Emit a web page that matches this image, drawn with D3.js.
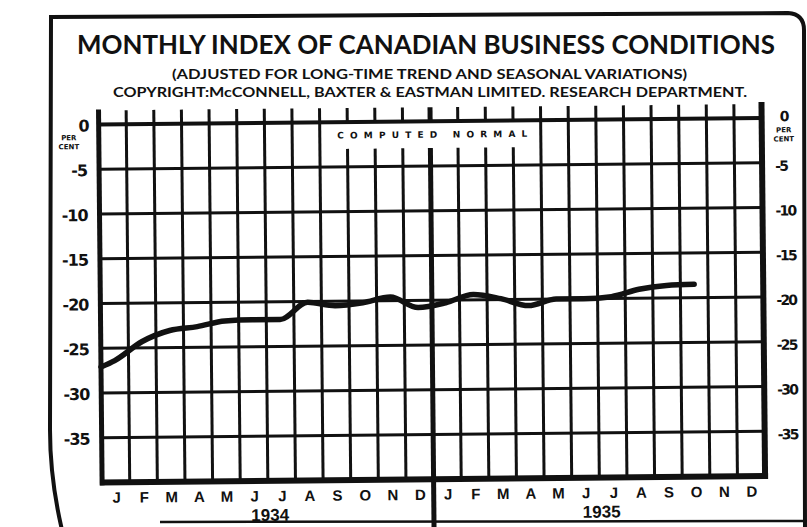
<!DOCTYPE html>
<html>
<head>
<meta charset="utf-8">
<script src="https://cdn.jsdelivr.net/npm/d3@7"></script>
<style>
  body { margin: 0; background: #fff; }
  svg { display: block; }
</style>
</head>
<body>
<svg id="chart" width="807" height="527"></svg>
<script>
// month initials, repeated for each year
const months = ['J', 'F', 'M', 'A', 'M', 'J', 'J', 'A', 'S', 'O', 'N', 'D']
const years = ['1934', '1935']
const yTicks = [0, -5, -10, -15, -20, -25, -30, -35]

// per cent below computed normal
const carriedIn = -27.1   // where the curve enters at the left edge
const index1934 = [-26.4, -24.3, -23.1, -22.7, -22.1, -22.0, -22.0, -20.1, -20.5, -20.2, -19.6, -20.8]
const index1935 = [-20.3, -19.4, -19.9, -20.7, -20.0, -20.0, -19.8, -19.0, -18.6, -18.5]

const W = 807, H = 527
const margin = { top: 121.5, right: 44, bottom: 47.5, left: 100 }
const ink = '#111'

const svg = d3.select('#chart')
svg.append('rect').attr('width', W).attr('height', H).attr('fill', '#fff')

// the page sits slightly skewed on the scan
const root = svg.append('g').attr('transform', 'rotate(-0.55 403 263)')

const nSlots = months.length * years.length
const x = d3.scaleLinear().domain([0, nSlots]).range([margin.left, W - margin.right])
const y = d3.scaleLinear().domain([-40, 0]).range([H - margin.bottom, margin.top])

// outer frame of the clipping
svg.append('path')
  .attr('d', 'M62,530 C55,500 50,470 50,430 L51,17 L788,13 Q804,14 804,30 L805,530')
  .attr('fill', 'none').attr('stroke', ink).attr('stroke-width', 4)
svg.append('line')
  .attr('x1', 160).attr('x2', 807).attr('y1', 522).attr('y2', 521)
  .attr('stroke', ink).attr('stroke-width', 2.5)

// titles (kept level so their boxes stay apart)
const titleFont = 'Lato, "Noto Sans", sans-serif'
svg.append('text')
  .attr('x', 77).attr('y', 54)
  .attr('textLength', 698).attr('lengthAdjust', 'spacingAndGlyphs')
  .style('font-family', titleFont).style('font-size', '27px').style('font-weight', 700)
  .attr('fill', ink)
  .text('MONTHLY INDEX OF CANADIAN BUSINESS CONDITIONS')
svg.append('text')
  .attr('x', 172).attr('y', 78.5)
  .attr('textLength', 515).attr('lengthAdjust', 'spacingAndGlyphs')
  .style('font-family', titleFont).style('font-size', '13px').style('font-weight', 700)
  .attr('fill', ink)
  .text('(ADJUSTED FOR LONG-TIME TREND AND SEASONAL VARIATIONS)')
svg.append('text')
  .attr('x', 113).attr('y', 96.5)
  .attr('textLength', 634).attr('lengthAdjust', 'spacingAndGlyphs')
  .style('font-family', titleFont).style('font-size', '13px').style('font-weight', 700)
  .attr('fill', ink)
  .text('COPYRIGHT:McCONNELL, BAXTER & EASTMAN LIMITED. RESEARCH DEPARTMENT.')

// horizontal grid
root.selectAll('.hgrid')
  .data(yTicks)
  .enter()
  .append('line')
  .attr('class', 'hgrid')
  .attr('x1', x(0)).attr('x2', x(nSlots))
  .attr('y1', d => y(d)).attr('y2', d => y(d))
  .attr('stroke', ink)
  .attr('stroke-width', d => d === 0 ? 4 : 3)

// vertical grid: month boundaries, broken under the "computed normal" label
const labelSlots = [9, 15]
const gapBottom = -3
const topStub = y(0) - 14
const vg = root.append('g')
d3.range(1, nSlots).forEach(k => {
  const thick = k === 12
  const bottom = thick ? H + 5 : y(-40)
  if (k >= labelSlots[0] && k <= labelSlots[1]) {
    vg.append('line')
      .attr('x1', x(k)).attr('x2', x(k)).attr('y1', topStub).attr('y2', y(0))
      .attr('stroke', ink).attr('stroke-width', thick ? 5 : 3)
    vg.append('line')
      .attr('x1', x(k)).attr('x2', x(k)).attr('y1', y(gapBottom)).attr('y2', bottom)
      .attr('stroke', ink).attr('stroke-width', thick ? 5 : 3)
  } else {
    vg.append('line')
      .attr('x1', x(k)).attr('x2', x(k)).attr('y1', topStub).attr('y2', bottom)
      .attr('stroke', ink).attr('stroke-width', 3)
  }
})

// frame of the plot
root.append('line')
  .attr('x1', x(0)).attr('x2', x(0)).attr('y1', y(0) - 15).attr('y2', y(-40) + 3)
  .attr('stroke', ink).attr('stroke-width', 5)
root.append('line')
  .attr('x1', x(nSlots)).attr('x2', x(nSlots)).attr('y1', y(0) - 16).attr('y2', y(-40) + 3)
  .attr('stroke', ink).attr('stroke-width', 6)
root.append('line')
  .attr('x1', x(0) - 2).attr('x2', x(nSlots) + 3).attr('y1', y(-40)).attr('y2', y(-40))
  .attr('stroke', ink).attr('stroke-width', 6)

root.append('text')
  .attr('x', x(nSlots / 2) + 2).attr('y', y(0) + 16.5)
  .attr('text-anchor', 'middle')
  .attr('textLength', 190).attr('lengthAdjust', 'spacing')
  .style('font-family', '"DejaVu Sans", sans-serif').style('font-size', '9px').style('font-weight', 'bold')
  .attr('fill', ink)
  .text('COMPUTED NORMAL')

// index curve
const points = [{ t: 0, v: carriedIn }]
  .concat(index1934.map((v, i) => ({ t: i + 0.5, v })))
  .concat(index1935.map((v, i) => ({ t: months.length + i + 0.5, v })))

const line = d3.line()
  .x(d => x(d.t))
  .y(d => y(d.v))
  .curve(d3.curveMonotoneX)

root.append('path')
  .datum(points)
  .attr('d', line)
  .attr('fill', 'none')
  .attr('stroke', ink)
  .attr('stroke-width', 5.5)
  .attr('stroke-linejoin', 'round')
  .attr('stroke-linecap', 'round')

// y labels, both sides
const fmt = d => d === 0 ? '0' : '-' + Math.abs(d)
const numFont = '"DejaVu Sans", sans-serif'

const leftAxis = root.append('g')
  .attr('transform', `translate(${x(0)},0)`)
  .call(d3.axisLeft(y).tickValues(yTicks).tickFormat(fmt).tickSize(0).tickPadding(12))
leftAxis.select('.domain').remove()
leftAxis.selectAll('text')
  .attr('dy', '0.4em')
  .style('font-family', numFont).style('font-size', '16px').style('font-weight', 'bold')
  .style('letter-spacing', '-1px')
  .attr('fill', ink)
leftAxis.selectAll('.tick').filter(d => d === 0).select('text')
  .attr('x', -10)

const rightAxis = root.append('g')
  .attr('transform', `translate(${x(nSlots)},0)`)
  .call(d3.axisRight(y).tickValues(yTicks).tickFormat(fmt).tickSize(0).tickPadding(13))
rightAxis.select('.domain').remove()
rightAxis.selectAll('text')
  .attr('dy', '0.55em')
  .style('font-family', numFont).style('font-size', '14px').style('font-weight', 'bold')
  .style('letter-spacing', '-1.8px')
  .attr('fill', ink)
rightAxis.selectAll('.tick').filter(d => d === 0).select('text')
  .attr('x', 18).attr('dy', '0.2em')

// tiny PER CENT under the zeros
const perCent = [['PER', 15.5], ['CENT', 24.5]]
root.selectAll('.pcl')
  .data(perCent)
  .enter()
  .append('text')
  .attr('class', 'pcl')
  .attr('x', x(0) - 30).attr('y', d => y(0) + d[1])
  .attr('text-anchor', 'middle')
  .style('font-family', numFont).style('font-size', '7px').style('font-weight', 'bold')
  .attr('fill', ink)
  .text(d => d[0])
root.selectAll('.pcr')
  .data(perCent)
  .enter()
  .append('text')
  .attr('class', 'pcr')
  .attr('x', x(nSlots) + 22).attr('y', d => y(0) + d[1] - 1)
  .attr('text-anchor', 'middle')
  .style('font-family', numFont).style('font-size', '7px').style('font-weight', 'bold')
  .attr('fill', ink)
  .text(d => d[0])

// month initials and years
const xAxis = root.append('g')
  .attr('transform', `translate(0,${y(-40)})`)
  .call(d3.axisBottom(x)
    .tickValues(d3.range(nSlots).map(i => i + 0.5))
    .tickFormat(d => months[Math.floor(d) % 12])
    .tickSize(0))
xAxis.select('.domain').remove()
xAxis.selectAll('text')
  .attr('y', 20.5).attr('dy', 0)
  .style('font-family', '"Liberation Sans", sans-serif').style('font-size', '15px').style('font-weight', 'bold')
  .attr('fill', ink)

root.selectAll('.year')
  .data(years)
  .enter()
  .append('text')
  .attr('class', 'year')
  .attr('x', (d, i) => x(i * 12 + 6) + 2)
  .attr('y', y(-40) + 40)
  .attr('text-anchor', 'middle')
  .style('font-family', '"Liberation Sans", sans-serif').style('font-size', '17px').style('font-weight', 'bold')
  .attr('fill', ink)
  .text(d => d)
</script>
</body>
</html>
